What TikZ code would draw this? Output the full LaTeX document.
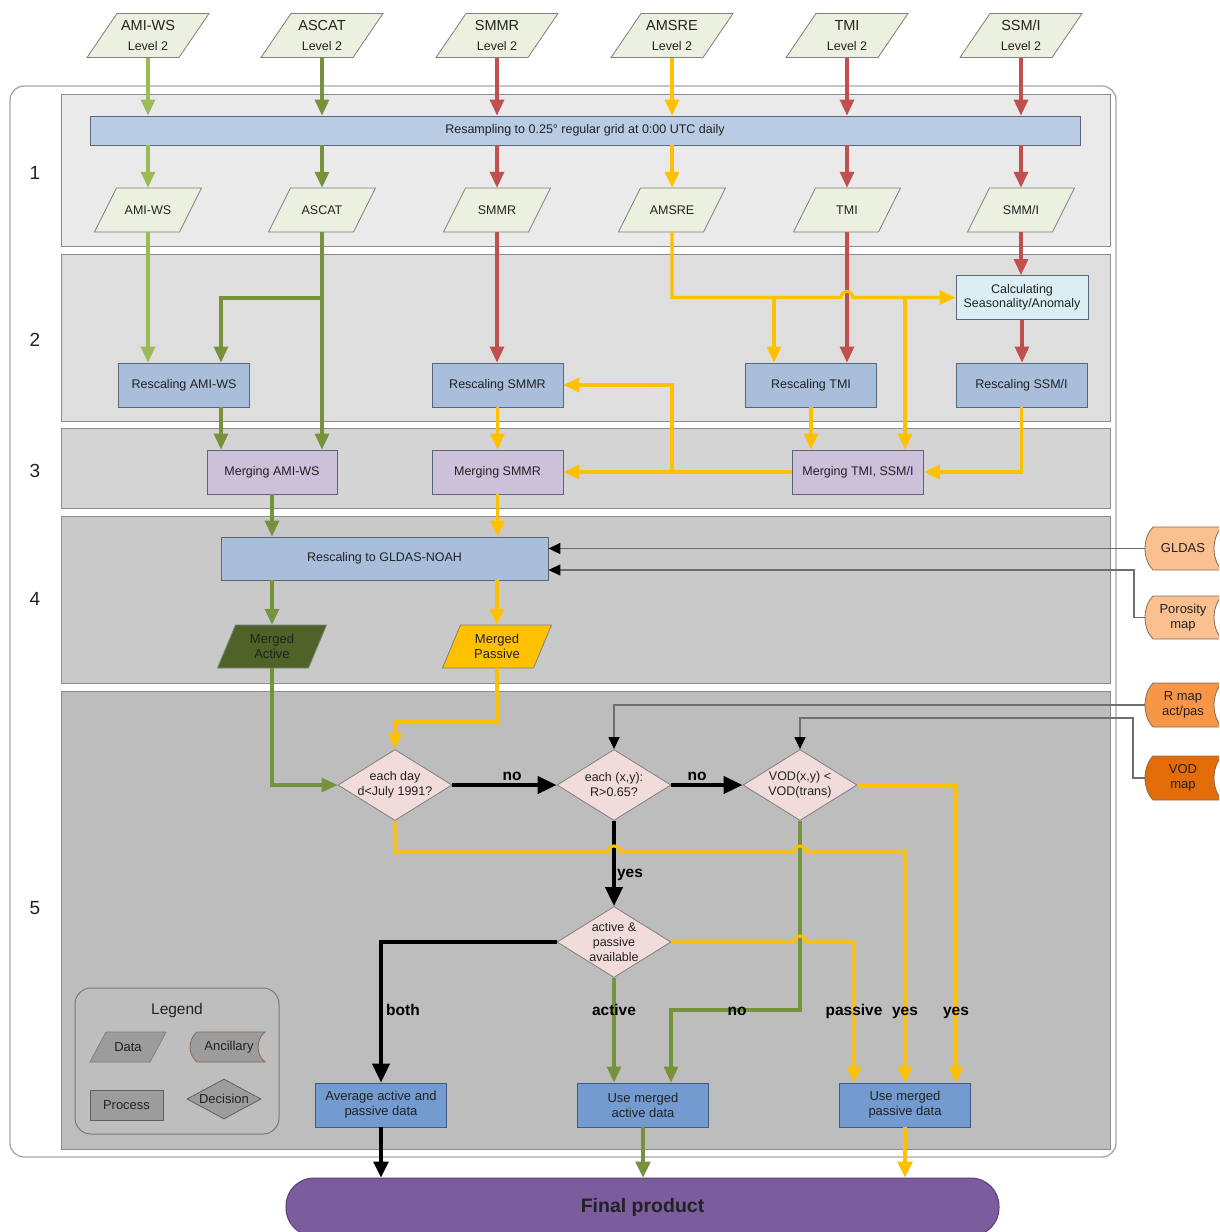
\documentclass[tikz,border=0pt]{standalone}
\usepackage{fontspec}
\setmainfont{Liberation Sans}
\usetikzlibrary{arrows.meta,shapes.geometric,calc}

\definecolor{lgreen}{HTML}{9BBB59}
\definecolor{dgreen}{HTML}{76923C}
\definecolor{cred}{HTML}{C0504D}
\definecolor{cyel}{HTML}{FFC000}
\definecolor{datafill}{HTML}{EBF1DE}
\definecolor{dataedge}{HTML}{7F7F7F}
\definecolor{bandA}{HTML}{EAEAEA}
\definecolor{bandB}{HTML}{DEDEDE}
\definecolor{bandC}{HTML}{D4D4D4}
\definecolor{bandD}{HTML}{C9C9C9}
\definecolor{bandE}{HTML}{BDBDBD}
\definecolor{bandedge}{HTML}{8C8C8C}
\definecolor{outerline}{HTML}{A6A6A6}
\definecolor{resfill}{HTML}{B9CCE4}
\definecolor{procfill}{HTML}{A9BEDB}
\definecolor{procedge}{HTML}{5A6675}
\definecolor{calcfill}{HTML}{DAEEF3}
\definecolor{mergefill}{HTML}{CCC0DA}
\definecolor{mactfill}{HTML}{4F6228}
\definecolor{decfill}{HTML}{F2DCDB}
\definecolor{decedge}{HTML}{7F7F7F}
\definecolor{outfill}{HTML}{739BCF}
\definecolor{outedge}{HTML}{3E5A82}
\definecolor{finfill}{HTML}{7B5C9C}
\definecolor{finedge}{HTML}{5A4076}
\definecolor{ancA}{HTML}{FAC090}
\definecolor{ancB}{HTML}{F79646}
\definecolor{ancC}{HTML}{E36C09}
\definecolor{ancedge}{HTML}{8A6A50}
\definecolor{ancline}{HTML}{6E6E6E}
\definecolor{legfill}{HTML}{9C9C9C}
\definecolor{legedge}{HTML}{5F5F5F}
\definecolor{legbox}{HTML}{BEBEBE}
\definecolor{legline}{HTML}{7A7A7A}
\definecolor{txt}{HTML}{222222}

% parallelogram: cx, cy, total width, height, slant, fill
\newcommand\datashape[6]{%
  \filldraw[fill=#6, draw=dataedge, line width=0.8pt]
    ({#1-#3/2},{#2+#4/2}) -- ({#1+#3/2-#5},{#2+#4/2}) --
    ({#1+#3/2},{#2-#4/2}) -- ({#1-#3/2+#5},{#2-#4/2}) -- cycle;}
% stored-data shape: cy, left x, right corner x, half height, bulge, fill
\newcommand\ancshape[6]{%
  \filldraw[fill=#6, draw=ancedge, line width=0.8pt]
    ({#2+#5},{#1-#4}) -- ({#3},{#1-#4})
    .. controls ({#3-1.33*#5},{#1-#4/2}) and ({#3-1.33*#5},{#1+#4/2}) .. ({#3},{#1+#4})
    -- ({#2+#5},{#1+#4})
    .. controls ({#2-0.33*#5},{#1+#4/2}) and ({#2-0.33*#5},{#1-#4/2}) .. ({#2+#5},{#1-#4})
    -- cycle;}
\newcommand\topdata[3]{%
  \datashape{#2}{35.5}{122}{44}{30}{datafill}
  \node[datat, minimum width=92pt, minimum height=44pt, font=\fontsize{14.5}{20}\selectfont]
    (#1) at (#2,35.5) {#3\\{\fontsize{12.5}{20}\selectfont Level 2}};}
\newcommand\secdata[3]{%
  \datashape{#2}{210}{107}{44}{22}{datafill}
  \node[datat, minimum width=85pt, minimum height=44pt, font=\fontsize{12.5}{15}\selectfont]
    (#1) at (#2,210) {#3};}

\tikzset{
  datat/.style={inner sep=0pt, align=center, text=txt},
  band/.style={draw=bandedge, line width=1pt},
  proc/.style={draw=procedge, line width=0.8pt, fill=procfill, minimum width=131pt,
    minimum height=44pt, inner sep=1pt, align=center, font=\fontsize{12.5}{14.5}\selectfont, text=txt},
  outbox/.style={proc, fill=outfill, draw=outedge, font=\fontsize{13}{15}\selectfont},
  dec/.style={diamond, aspect=1.6, draw=decedge, line width=0.8pt, fill=decfill,
    minimum width=114pt, minimum height=71pt, inner sep=-3pt, align=center,
    font=\fontsize{12.5}{15}\selectfont, text=txt},
  anct/.style={inner sep=0pt, align=center, text=txt, minimum width=76pt,
    font=\fontsize{13}{15.5}\selectfont},
  arr/.style={line width=3.1pt, -{Triangle[length=16pt,width=14pt]}},
  barr/.style={line width=4pt, black, -{Triangle[length=19pt,width=17pt]}},
  farr/.style={line width=3.2pt, -{Triangle[length=16pt,width=15pt]}},
  anc/.style={draw=ancline, line width=1.4pt, -{Triangle[length=12pt,width=11pt,color=black]}},
  lab/.style={font=\bfseries\fontsize{15.5}{18}\selectfont, text=black, inner sep=1pt},
  num/.style={font=\fontsize{19}{22}\selectfont, text=txt},
}

\begin{document}
\begin{tikzpicture}[x=1pt,y=-1pt]
\useasboundingbox (0,0) rectangle (1219,1232);
\clip (0,0) rectangle (1219,1232);
\fill[white] (0,0) rectangle (1219,1232);

% outer frame and bands
\draw[draw=outerline, line width=1.3pt, fill=white, rounded corners=14pt] (10,86) rectangle (1116,1157);
\filldraw[band, fill=bandA] (61,94) rectangle (1110,246);
\filldraw[band, fill=bandB] (61,254) rectangle (1110,421);
\filldraw[band, fill=bandC] (61,428) rectangle (1110,508);
\filldraw[band, fill=bandD] (61,516) rectangle (1110,683);
\filldraw[band, fill=bandE] (61,691) rectangle (1110,1149);

\node[num] (n1) at (35,173) {1};
\node[num] (n2) at (35,340) {2};
\node[num] (n3) at (35,471) {3};
\node[num] (n4) at (35,599) {4};
\node[num] (n5) at (35,908) {5};

% legend
\filldraw[draw=legline, line width=1pt, fill=legbox, rounded corners=16pt] (75,988) rectangle (279,1134);
\node[font=\fontsize{15.5}{18}\selectfont, text=txt] (legt) at (177,1010) {Legend};
\datashape{128}{1047}{76}{30}{16}{legfill}
\node[datat, font=\fontsize{13}{15}\selectfont, minimum width=60pt, minimum height=30pt] (ldata) at (128,1047) {Data};
\ancshape{1047}{190}{265}{15}{7}{legfill}
\node[datat, font=\fontsize{13}{15}\selectfont] (lanc) at (229,1047) {Ancillary};
\node[draw=legedge, line width=0.8pt, fill=legfill, minimum width=73pt, minimum height=30pt,
  font=\fontsize{13}{15}\selectfont, text=txt] (lproc) at (126.5,1105) {Process};
\node[diamond, aspect=1.85, draw=legedge, line width=0.8pt, fill=legfill, minimum width=74pt,
  minimum height=40pt, inner sep=-2pt, font=\fontsize{13}{15}\selectfont, text=txt] (ldec) at (224,1099) {Decision};

% data row 1
\topdata{amiwsA}{148}{AMI-WS}
\topdata{ascatA}{322}{ASCAT}
\topdata{smmrA}{497}{SMMR}
\topdata{amsreA}{672}{AMSRE}
\topdata{tmiA}{847}{TMI}
\topdata{ssmiA}{1021}{SSM/I}

\node[proc, fill=resfill, minimum width=990pt, minimum height=29pt] (resamp) at (585,130.5)
  {Resampling to 0.25° regular grid at 0:00 UTC daily};

% data row 2
\secdata{amiwsB}{148}{AMI-WS}
\secdata{ascatB}{322}{ASCAT}
\secdata{smmrB}{497}{SMMR}
\secdata{amsreB}{672}{AMSRE}
\secdata{tmiB}{847}{TMI}
\secdata{ssmiB}{1021}{SMM/I}

% section 2
\node[proc] (ramiws) at (184,385) {Rescaling AMI-WS};
\node[proc] (rsmmr) at (497.5,385) {Rescaling SMMR};
\node[proc] (rtmi) at (811,385) {Rescaling TMI};
\node[proc] (rssmi) at (1021.5,385) {Rescaling SSM/I};
\node[proc, fill=calcfill, minimum width=132pt] (calc) at (1022,297.5) {Calculating\\Seasonality/Anomaly};

% section 3
\node[proc, fill=mergefill, minimum width=130pt] (mamiws) at (272,472) {Merging AMI-WS};
\node[proc, fill=mergefill] (msmmr) at (497.5,472) {Merging SMMR};
\node[proc, fill=mergefill] (mtmi) at (858,472) {Merging TMI, SSM/I};

% section 4
\node[proc, minimum width=327pt, minimum height=43pt] (rgldas) at (384.5,558.5) {Rescaling to GLDAS-NOAH};
\datashape{272}{646.5}{109}{43}{18}{mactfill}
\node[datat, minimum width=91pt, minimum height=43pt, font=\fontsize{13}{15}\selectfont] (mact) at (272,646.5) {Merged\\Active};
\datashape{497}{646.5}{109}{43}{18}{cyel}
\node[datat, minimum width=91pt, minimum height=43pt, font=\fontsize{13}{15}\selectfont] (mpas) at (497,646.5) {Merged\\Passive};

% ancillary inputs
\ancshape{548.5}{1145}{1222}{21.5}{8}{ancA}
\node[anct, minimum height=43pt] (gldas) at (1183,548.5) {GLDAS};
\ancshape{617.5}{1145}{1222}{21.5}{8}{ancA}
\node[anct, minimum height=43pt] (poro) at (1183,617.5) {Porosity\\map};
\ancshape{705}{1145}{1222}{22}{8}{ancB}
\node[anct, minimum height=44pt] (rmap) at (1183,705) {R map\\act/pas};
\ancshape{778}{1145}{1222}{22}{8}{ancC}
\node[anct, minimum height=44pt] (vod) at (1183,778) {VOD\\map};

% section 5
\node[dec] (d1) at (395,785) {each day\\d<July 1991?};
\node[dec] (d2) at (614,785) {each (x,y):\\R>0.65?};
\node[dec] (d3) at (800,785) {VOD(x,y) <\\VOD(trans)};
\node[dec] (d4) at (614,942) {active \&\\passive\\available};

\node[outbox] (avg) at (381,1105) {Average active and\\passive data};
\node[outbox] (uma) at (643,1105) {Use merged\\active data};
\node[outbox] (ump) at (905,1105) {Use merged\\passive data};

\node[draw=finedge, line width=1pt, fill=finfill, rounded corners=28pt, minimum width=713pt,
  minimum height=58pt, font=\bfseries\fontsize{19.5}{22}\selectfont, text=txt] (final) at (642.5,1207) {Final product};

% ---------- connectors ----------
\foreach \n/\c in {amiwsA/lgreen, ascatA/dgreen, smmrA/cred, amsreA/cyel, tmiA/cred, ssmiA/cred}
  {\draw[arr,\c] (\n.south) -- (\n.south |- resamp.north);}
\foreach \n/\c in {amiwsB/lgreen, ascatB/dgreen, smmrB/cred, amsreB/cyel, tmiB/cred, ssmiB/cred}
  {\draw[arr,\c] (resamp.south -| \n.north) -- (\n.north);}

% section 2
\draw[arr,lgreen] (amiwsB.south) -- (amiwsB.south |- ramiws.north);
\draw[arr,dgreen] (ascatB.south) -- (ascatB.south |- mamiws.north);
\coordinate (ascj) at (322,298);
\coordinate (ascr) at (221,298);
\draw[arr,dgreen] (ascj) -- (ascr) -- (ascr |- ramiws.north);
\draw[arr,cred] (smmrB.south) -- (smmrB.south |- rsmmr.north);
\draw[arr,cred] (tmiB.south) -- (tmiB.south |- rtmi.north);
\draw[arr,cred] (ssmiB.south) -- (ssmiB.south |- calc.north);
\draw[arr,cred] (calc.south) -- (calc.south |- rssmi.north);
\coordinate (hopA) at (841,297.5);
\draw[arr,cyel] (amsreB.south) |- (hopA) arc[start angle=180,end angle=360,radius=6] -- (calc.west);
\coordinate (yb1) at (774,297.5);
\draw[arr,cyel] (yb1) -- (yb1 |- rtmi.north);
\coordinate (yb2) at (905,297.5);
\draw[arr,cyel] (yb2) -- (yb2 |- mtmi.north);

% section 3
\coordinate (rb) at (221,407);
\draw[arr,dgreen] (rb) -- (rb |- mamiws.north);
\draw[arr,cyel] (rsmmr.south) -- (rsmmr.south |- msmmr.north);
\draw[arr,cyel] (rtmi.south) -- (rtmi.south |- mtmi.north);
\draw[arr,cyel] (rssmi.south) |- (mtmi.east);
\draw[arr,cyel] (mtmi.west) -- (msmmr.east);
\coordinate (yb3) at (672,472);
\draw[arr,cyel] (yb3) |- (rsmmr.east);

% section 4
\draw[arr,dgreen] (mamiws.south) -- (mamiws.south |- rgldas.north);
\draw[arr,cyel] (msmmr.south) -- (msmmr.south |- rgldas.north);
\draw[arr,dgreen] (mact.north |- rgldas.south) -- (mact.north);
\draw[arr,cyel] (mpas.north |- rgldas.south) -- (mpas.north);
\draw[anc] (gldas.west) -- (gldas.west -| rgldas.east);
\coordinate (pbend) at (1134,570);
\draw[anc] (poro.west) -| (pbend) -- (pbend -| rgldas.east);
\draw[anc] (rmap.west) -| (d2.north);
\coordinate (vbend) at (1133,718);
\draw[anc] (vod.west) -| (vbend) -| (d3.north);

% section 5
\draw[arr,dgreen] (mact.south) |- (d1.west);
\coordinate (pb) at (497,722);
\draw[arr,cyel] (mpas.south) -- (pb) -| (d1.north);
\draw[barr] (d1.east) -- (d2.west);
\draw[barr] (d2.east) -- (d3.west);
\draw[barr] (d2.south) -- (d4.north);
\draw[barr] (d4.west) -| (avg.north);
\coordinate (gb1) at (800,1010);
\coordinate (gb2) at (671,1010);
\draw[arr,dgreen] (d3.south) -- (gb1) -- (gb2) -- (gb2 |- uma.north);
\draw[arr,dgreen] (d4.south) -- (d4.south |- uma.north);
\coordinate (hopB) at (608,852);
\coordinate (hopC) at (794,852);
\coordinate (yb4) at (905,852);
\draw[arr,cyel] (d1.south) |- (hopB) arc[start angle=180,end angle=360,radius=6]
  -- (hopC) arc[start angle=180,end angle=360,radius=6] -- (yb4) -- (yb4 |- ump.north);
\coordinate (yb5) at (956,785);
\draw[arr,cyel] (d3.east) -- (yb5) -- (yb5 |- ump.north);
\coordinate (hopD) at (794,942);
\coordinate (yb6) at (854,942);
\draw[arr,cyel] (d4.east) -- (hopD) arc[start angle=180,end angle=360,radius=6] -- (yb6) -- (yb6 |- ump.north);

% to final product
\draw[farr,black] (avg.south) -- (avg.south |- final.north);
\draw[farr,dgreen] (uma.south) -- (uma.south |- final.north);
\draw[farr,cyel] (ump.south) -- (ump.south |- final.north);

% labels
\node[lab, anchor=base] (lno1) at (512,780) {no};
\node[lab, anchor=base] (lno2) at (697,780) {no};
\node[lab, anchor=base] (lyes1) at (630,877) {yes};
\node[lab, anchor=base] (lboth) at (403,1015) {both};
\node[lab, anchor=base] (lact) at (614,1015) {active};
\node[lab, anchor=base] (lno3) at (737,1015) {no};
\node[lab, anchor=base] (lpas) at (854,1015) {passive};
\node[lab, anchor=base] (lyes2) at (905,1015) {yes};
\node[lab, anchor=base] (lyes3) at (956,1015) {yes};
\end{tikzpicture}
\end{document}
